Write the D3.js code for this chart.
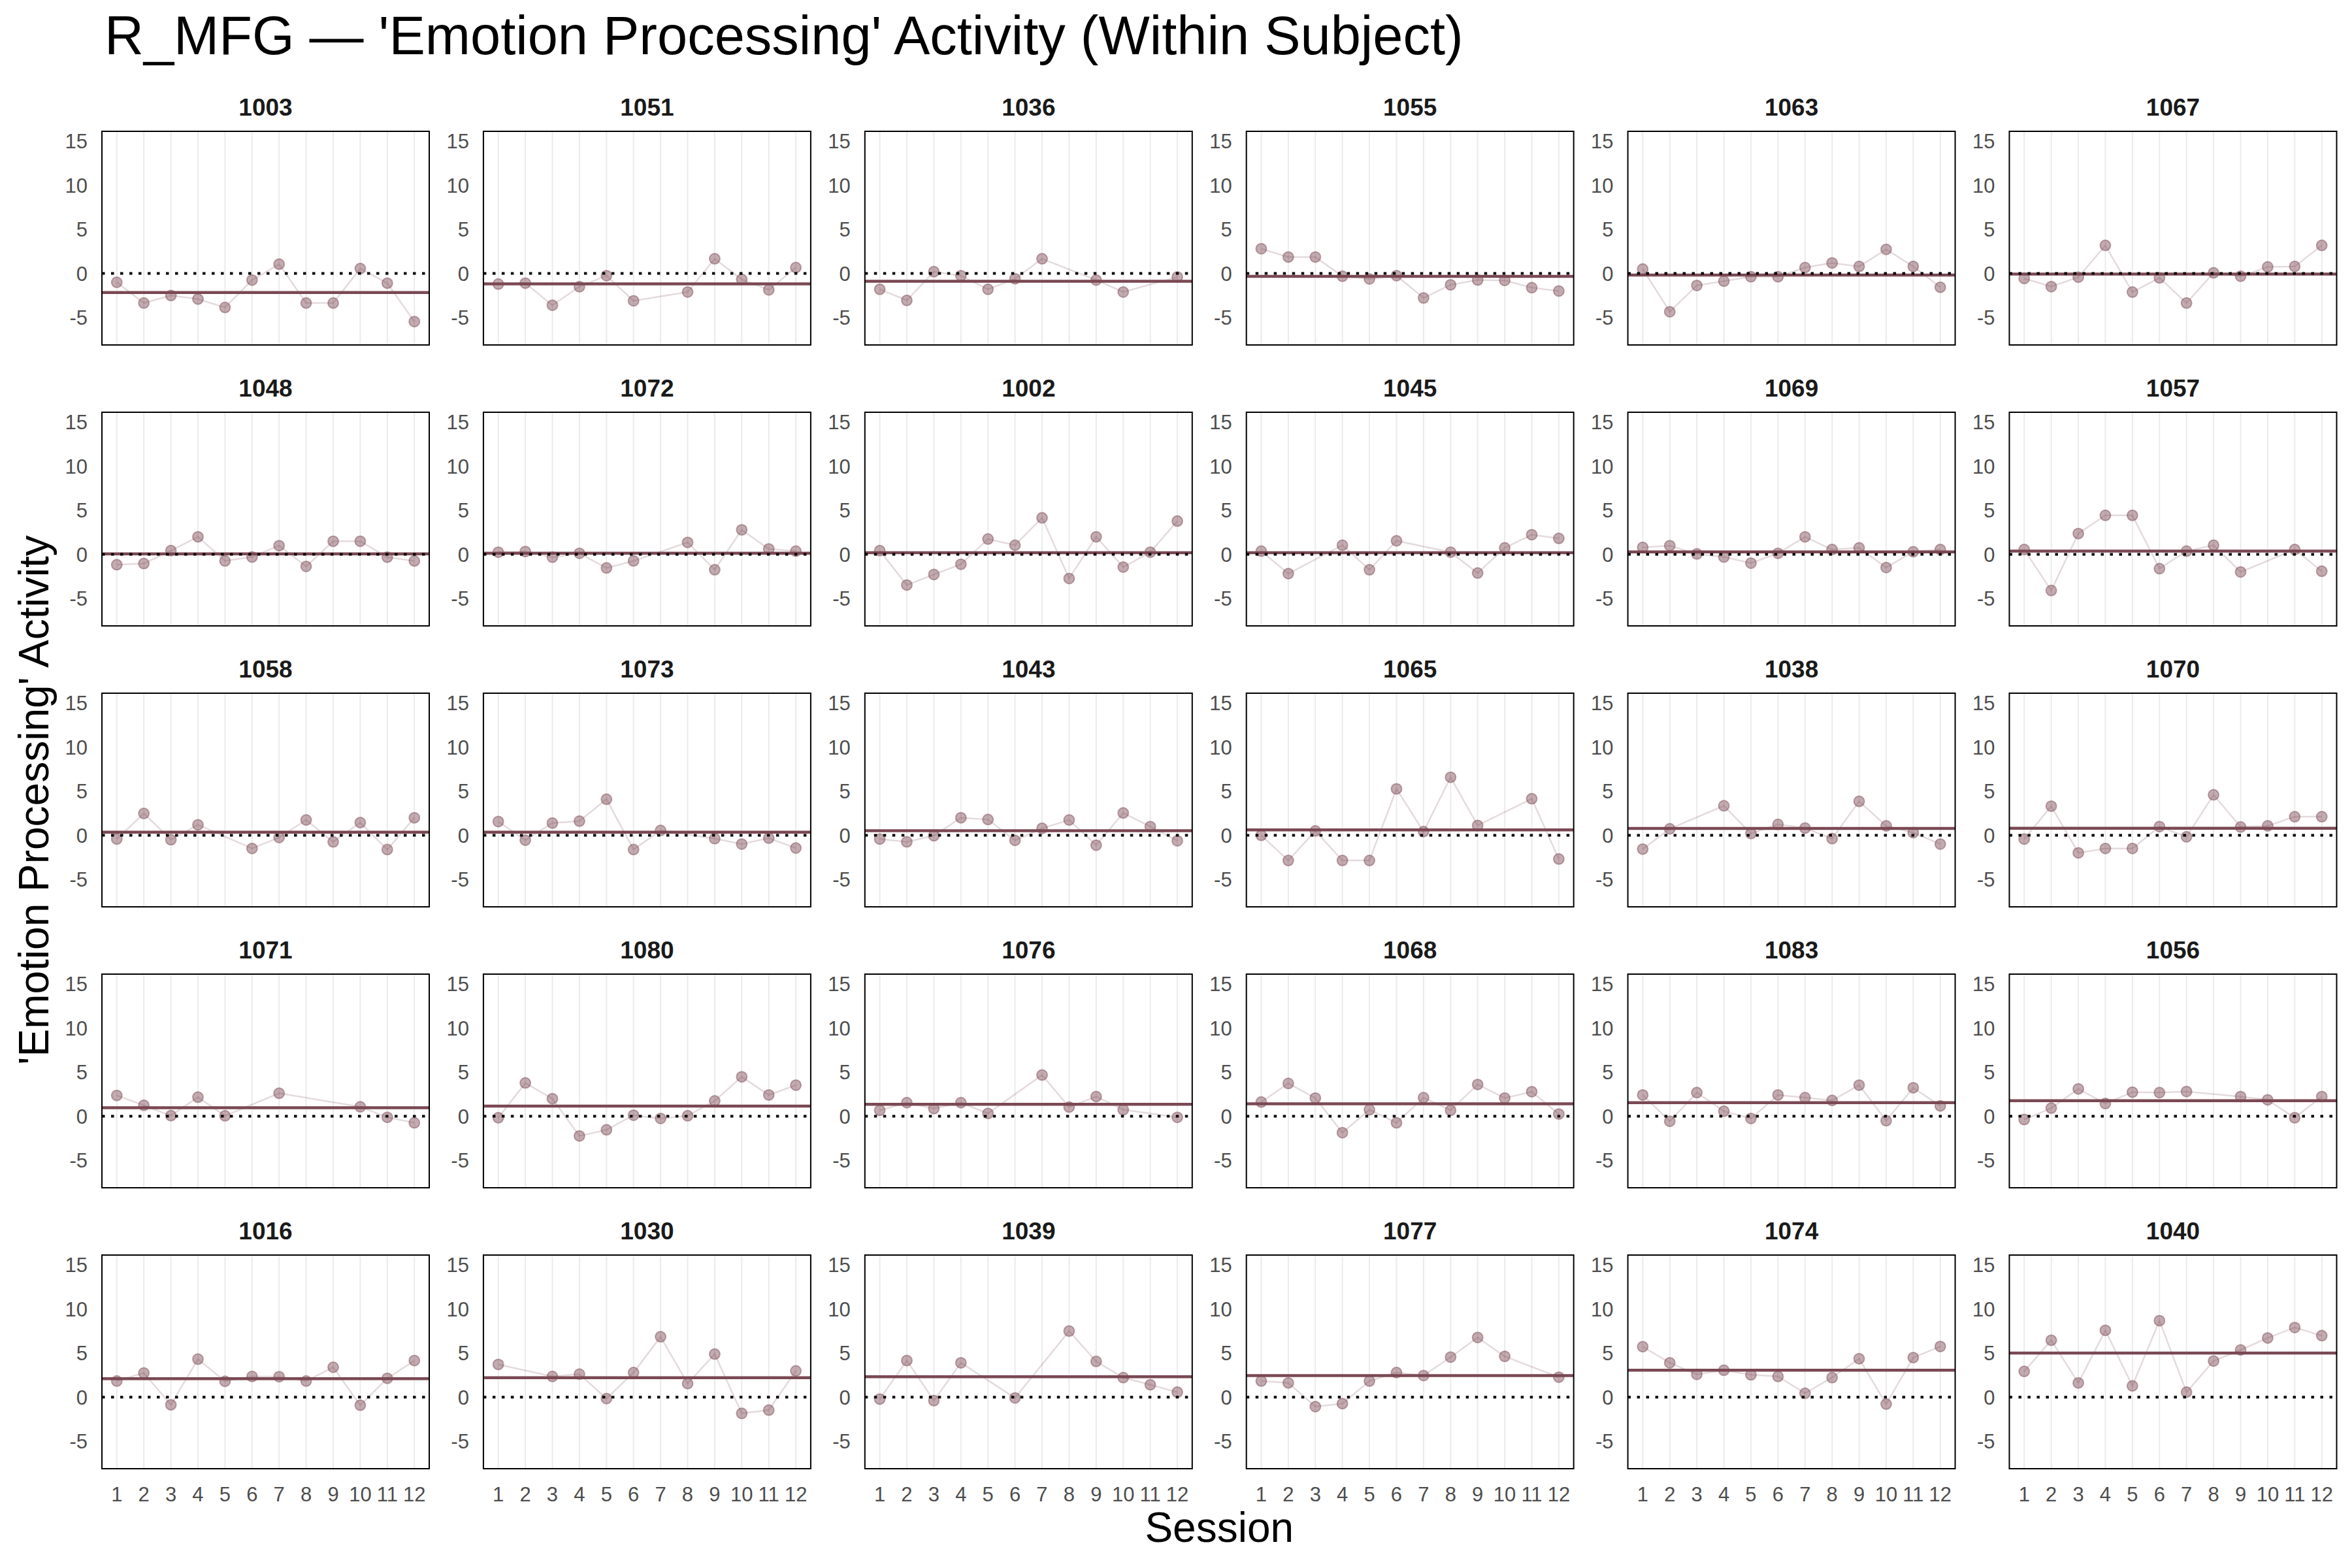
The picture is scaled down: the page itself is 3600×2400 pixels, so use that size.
<!DOCTYPE html>
<html><head><meta charset="utf-8">
<script src="https://cdn.jsdelivr.net/npm/d3@7"></script>
<style>body{margin:0;background:#fff}</style>
</head><body><svg id="c" width="3600" height="2400"></svg>
<script>
// ---- data ----
const sessions = [1,2,3,4,5,6,7,8,9,10,11,12];
const yTicks = [-5, 0, 5, 10, 15];
const subjects = ["1003","1051","1036","1055","1063","1067",
                  "1048","1072","1002","1045","1069","1057",
                  "1058","1073","1043","1065","1038","1070",
                  "1071","1080","1076","1068","1083","1056",
                  "1016","1030","1039","1077","1074","1040"];
const v1003 = [-1.0,-3.35,-2.5,-2.9,-3.85,-0.75,1.05,-3.35,-3.35,0.55,-1.1,-5.45];
const v1051 = [-1.2,-1.1,-3.6,-1.5,-0.25,-3.1,null,-2.1,1.66,-0.67,-1.86,0.67];
const v1036 = [-1.8,-3.05,0.2,-0.25,-1.8,-0.6,1.66,null,-0.75,-2.1,null,-0.4];
const v1055 = [2.8,1.86,1.86,-0.32,-0.62,-0.25,-2.78,-1.29,-0.74,-0.79,-1.61,-1.99];
const v1063 = [0.5,-4.34,-1.36,-0.87,-0.37,-0.37,0.67,1.19,0.79,2.73,0.79,-1.56];
const v1067 = [-0.57,-1.49,-0.42,3.18,-2.11,-0.5,-3.35,0.07,-0.32,0.74,0.79,3.18];
const v1048 = [-1.17,-1.04,0.42,1.99,-0.74,-0.3,0.99,-1.36,1.49,1.49,-0.32,-0.74];
const v1072 = [0.25,0.32,-0.32,0.12,-1.54,-0.74,null,1.36,-1.74,2.78,0.62,0.37];
const v1002 = [0.42,-3.47,-2.28,-1.12,1.74,1.04,4.14,-2.73,1.99,-1.44,0.25,3.77];
const v1045 = [0.37,-2.18,null,1.04,-1.74,1.54,null,0.25,-2.11,0.74,2.23,1.81];
const v1069 = [0.79,0.99,0.05,-0.3,-0.99,0.12,1.99,0.55,0.74,-1.49,0.3,0.55];
const v1057 = [0.55,-4.09,2.36,4.42,4.42,-1.61,0.37,1.04,-1.99,null,0.55,-1.91];
const v1058 = [-0.42,2.48,-0.5,1.19,null,-1.49,-0.25,1.74,-0.74,1.44,-1.61,1.99];
const v1073 = [1.56,-0.55,1.39,1.61,4.09,-1.61,0.55,null,-0.37,-0.99,-0.32,-1.44];
const v1043 = [-0.42,-0.74,-0.05,1.99,1.79,-0.57,0.79,1.74,-1.12,2.53,0.99,-0.62];
const v1065 = [0.0,-2.85,0.5,-2.85,-2.85,5.26,0.42,6.58,1.12,null,4.14,-2.68];
const v1038 = [-1.56,0.74,null,3.35,0.2,1.24,0.82,-0.37,3.85,1.07,0.3,-0.99];
const v1070 = [-0.42,3.3,-1.99,-1.49,-1.49,0.99,-0.17,4.59,0.94,1.07,2.11,2.11];
const v1071 = [2.36,1.24,0.07,2.16,0.05,null,2.61,null,null,1.07,-0.12,-0.74];
const v1080 = [-0.17,3.77,1.99,-2.23,-1.54,0.12,-0.25,0.05,1.74,4.47,2.41,3.52];
const v1076 = [0.67,1.54,0.87,1.54,0.32,null,4.67,1.04,2.23,0.74,null,-0.12];
const v1068 = [1.61,3.72,2.06,-1.86,0.74,-0.74,2.11,0.67,3.6,2.06,2.78,0.25];
const v1083 = [2.41,-0.57,2.68,0.57,-0.25,2.41,2.11,1.79,3.52,-0.5,3.23,1.17];
const v1056 = [-0.37,0.92,3.1,1.44,2.73,2.68,2.8,null,2.23,1.86,-0.17,2.23];
const v1016 = [1.83,2.74,-0.86,4.31,1.8,2.35,2.32,1.83,3.39,-0.91,2.14,4.15];
const v1030 = [3.71,null,2.35,2.61,-0.16,2.79,6.84,1.54,4.88,-1.83,-1.46,2.98];
const v1039 = [-0.21,4.15,-0.39,3.89,null,-0.08,null,7.49,4.05,2.22,1.41,0.57];
const v1077 = [1.83,1.62,-1.07,-0.73,1.83,2.79,2.45,4.54,6.76,4.62,null,2.27];
const v1074 = [5.72,3.89,2.58,3.05,2.53,2.35,0.44,2.22,4.36,-0.78,4.49,5.74];
const v1040 = [2.92,6.45,1.62,7.57,1.28,8.67,0.57,4.1,5.35,6.71,7.89,6.97];

const valueArrays = {v1003,v1051,v1036,v1055,v1063,v1067,v1048,v1072,v1002,v1045,v1069,v1057,
  v1058,v1073,v1043,v1065,v1038,v1070,v1071,v1080,v1076,v1068,v1083,v1056,
  v1016,v1030,v1039,v1077,v1074,v1040};

const titleText = "R_MFG \u2014 'Emotion Processing' Activity (Within Subject)";
const xTitle = "Session";
const yTitle = "'Emotion Processing' Activity";

// ---- layout ----
const nCols = 6, nRows = 5;
const left0 = 156, colStep = 583.9, pw = 501;
const top0 = 201, rowStep = 430, ph = 327;
const col = "#7a4853";
const font = "'Liberation Sans', Arial, Helvetica, sans-serif";

const svg = d3.select("#c");
svg.append("rect").attr("width",3600).attr("height",2400).attr("fill","#fff");

const x = d3.scaleLinear().domain([0.45, 12.55]).range([0, pw]);
const y = d3.scaleLinear().domain([-8.1, 16.1]).range([ph, 0]);

// title
const t = svg.append("text").attr("x", 160).attr("y", 83)
  .attr("font-family", font).attr("font-size", 84).attr("fill", "#000")
  .text(titleText);
const tw = t.node().getComputedTextLength();
t.attr("font-size", 84 * 2080 / tw);

subjects.forEach((id, i) => {
  const r = Math.floor(i / nCols), c = i % nCols;
  const g = svg.append("g").attr("transform", `translate(${left0 + c*colStep},${top0 + r*rowStep})`);
  const vals = valueArrays["v" + id];
  const data = sessions.map((s, k) => ({s, v: vals[k]})).filter(d => d.v !== null);
  const mean = d3.mean(data, d => d.v);

  // vertical grid
  g.selectAll("line.grid").data(sessions).join("line")
    .attr("x1", d => x(d)).attr("x2", d => x(d)).attr("y1", 0).attr("y2", ph)
    .attr("stroke", "#ebebeb").attr("stroke-width", 2);

  // y tick labels
  g.selectAll("text.yt").data(yTicks).join("text")
    .attr("x", -22).attr("y", d => y(d)).attr("dy", "0.36em")
    .attr("text-anchor", "end").attr("font-family", font).attr("font-size", 31)
    .attr("fill", "#4d4d4d").text(d => d);

  // strip title
  g.append("text").attr("x", pw/2).attr("y", -24).attr("text-anchor", "middle")
    .attr("font-family", font).attr("font-size", 37).attr("font-weight", "bold")
    .attr("fill", "#1a1a1a").text(id);

  // connecting line
  g.append("path").datum(data)
    .attr("d", d3.line().x(d => x(d.s)).y(d => y(d.v)))
    .attr("fill", "none").attr("stroke", col).attr("stroke-opacity", 0.2).attr("stroke-width", 2.5);

  // points
  g.selectAll("circle").data(data).join("circle")
    .attr("cx", d => x(d.s)).attr("cy", d => y(d.v)).attr("r", 8)
    .attr("fill", col).attr("fill-opacity", 0.45)
    .attr("stroke", col).attr("stroke-opacity", 0.45).attr("stroke-width", 2);

  // mean line
  g.append("line").attr("x1", 0).attr("x2", pw).attr("y1", y(mean)).attr("y2", y(mean))
    .attr("stroke", col).attr("stroke-width", 4.5);

  // zero line
  g.append("line").attr("x1", 0).attr("x2", pw).attr("y1", y(0)).attr("y2", y(0))
    .attr("stroke", "#000").attr("stroke-width", 4).attr("stroke-dasharray", "4.5,9.5");

  // border
  g.append("rect").attr("x", 0).attr("y", 0).attr("width", pw).attr("height", ph)
    .attr("fill", "none").attr("stroke", "#000").attr("stroke-width", 2);

  // x tick labels on bottom row
  if (r === nRows - 1) {
    g.selectAll("text.xt").data(sessions).join("text")
      .attr("x", d => x(d)).attr("y", ph + 39).attr("dy", "0.36em")
      .attr("text-anchor", "middle").attr("font-family", font).attr("font-size", 31)
      .attr("fill", "#4d4d4d").text(d => d);
  }
});

// axis titles
const panelsLeft = left0, panelsRight = left0 + (nCols-1)*colStep + pw;
const panelsTop = top0, panelsBottom = top0 + (nRows-1)*rowStep + ph;
svg.append("text").attr("x", (panelsLeft + panelsRight)/2).attr("y", 2360)
  .attr("text-anchor", "middle").attr("font-family", font).attr("font-size", 64)
  .attr("fill", "#000").text(xTitle);
svg.append("text")
  .attr("transform", `translate(74,${(panelsTop + panelsBottom)/2}) rotate(-90)`)
  .attr("text-anchor", "middle").attr("font-family", font).attr("font-size", 64)
  .attr("fill", "#000").text(yTitle);
</script></body></html>
